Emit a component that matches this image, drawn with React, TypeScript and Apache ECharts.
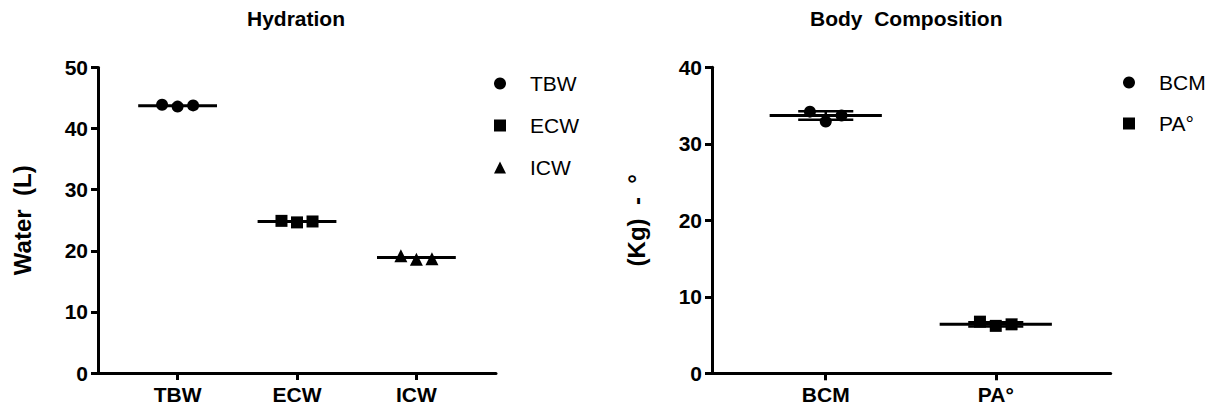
import React, { useEffect, useRef } from "react";
import * as echarts from "echarts";

// ---- data ----
const hydCategories = ["TBW", "ECW", "ICW"];
const tbwValues = [43.9, 43.6, 43.8];
const ecwValues = [24.9, 24.65, 24.8];
const icwValues = [19.2, 18.6, 18.7];
const hydMeans = [43.75, 24.8, 18.9];
const hydJitter = [-0.13, 0, 0.13];

const bodyCategories = ["BCM", "PA°"];
const bcmValues = [34.2, 32.9, 33.7];
const paValues = [6.75, 6.2, 6.4];
const bodyMeans = [33.7, 6.4];
const bodySd = [0.55, 0.28];
const bodyJitter = [-0.093, 0, 0.093];

const hydTicks = [0, 1, 2];
const bodyTicks = [0, 1];

const FONT = "'Liberation Sans', Arial, Helvetica, sans-serif";

function pts(values: number[], cat: number, jitter: number[]) {
  return values.map((v, i) => [cat + jitter[i], v]);
}

function meanRenderer(halfWidth: number, capHalf: number) {
  return (params: any, api: any) => {
    const x = api.value(0);
    const m = api.value(1);
    const sd = api.value(2);
    const a = api.coord([x - halfWidth, m]);
    const b = api.coord([x + halfWidth, m]);
    const children: any[] = [
      {
        type: "line",
        shape: { x1: a[0], y1: a[1], x2: b[0], y2: b[1] },
        style: { stroke: "#000", lineWidth: 3 },
      },
    ];
    if (sd > 0) {
      const t = api.coord([x, m + sd]);
      const bo = api.coord([x, m - sd]);
      const tl = api.coord([x - capHalf, m + sd]);
      const tr = api.coord([x + capHalf, m + sd]);
      const bl = api.coord([x - capHalf, m - sd]);
      const br = api.coord([x + capHalf, m - sd]);
      children.push(
        { type: "line", shape: { x1: t[0], y1: t[1], x2: bo[0], y2: bo[1] }, style: { stroke: "#000", lineWidth: 2.5 } },
        { type: "line", shape: { x1: tl[0], y1: tl[1], x2: tr[0], y2: tr[1] }, style: { stroke: "#000", lineWidth: 2.5 } },
        { type: "line", shape: { x1: bl[0], y1: bl[1], x2: br[0], y2: br[1] }, style: { stroke: "#000", lineWidth: 2.5 } }
      );
    }
    return { type: "group", children };
  };
}

const axisLineStyle = { show: true, lineStyle: { color: "#000", width: 3 } };
const tickStyle = { show: true, length: 7, lineStyle: { color: "#000", width: 3 } };
const labelStyle = { color: "#000", fontSize: 21, fontWeight: "bold" as const, fontFamily: FONT };
const markerStyle = { color: "#000", opacity: 1 };
const legendText = { fontSize: 21, color: "#000", fontFamily: FONT, padding: [0, 0, 0, 19] };

export default function App() {
  const ref = useRef<HTMLDivElement>(null);

  useEffect(() => {
    if (!ref.current) return;
    const chart = echarts.init(ref.current, null, { renderer: "svg" });
    const option: any = {
      animation: false,
      backgroundColor: "#fff",
      title: [
        {
          text: "Hydration",
          left: 247,
          top: 8,
          padding: 0,
          textStyle: { fontSize: 21, fontWeight: "bold", color: "#000", fontFamily: FONT },
        },
        {
          text: "Body  Composition",
          left: 810,
          top: 8,
          padding: 0,
          textStyle: { fontSize: 21, fontWeight: "bold", color: "#000", fontFamily: FONT },
        },
      ],
      legend: [
        {
          data: hydCategories,
          orient: "vertical",
          left: 494,
          top: 73,
          padding: 0,
          itemWidth: 12,
          itemHeight: 12,
          itemGap: 21,
          textStyle: legendText,
        },
        {
          data: bodyCategories,
          orient: "vertical",
          left: 1123,
          top: 72,
          padding: 0,
          itemWidth: 12,
          itemHeight: 12,
          itemGap: 20,
          textStyle: legendText,
        },
      ],
      grid: [
        { left: 98, top: 67.5, width: 398, height: 305.5 },
        { left: 712, top: 67.3, width: 398.7, height: 306 },
      ],
      xAxis: [
        {
          type: "value",
          gridIndex: 0,
          min: -2 / 3,
          max: 8 / 3,
          splitLine: { show: false },
          axisLine: { ...axisLineStyle, onZero: false },
          axisTick: { ...tickStyle, customValues: hydTicks },
          axisLabel: {
            ...labelStyle,
            margin: 11,
            customValues: hydTicks,
            formatter: (v: number) => hydCategories[Math.round(v)] ?? "",
          },
        },
        {
          type: "value",
          gridIndex: 1,
          min: -0.669,
          max: 1.676,
          splitLine: { show: false },
          axisLine: { ...axisLineStyle, onZero: false },
          axisTick: { ...tickStyle, customValues: bodyTicks },
          axisLabel: {
            ...labelStyle,
            margin: 11,
            customValues: bodyTicks,
            formatter: (v: number) => bodyCategories[Math.round(v)] ?? "",
          },
        },
      ],
      yAxis: [
        {
          type: "value",
          gridIndex: 0,
          min: 0,
          max: 50,
          interval: 10,
          name: "Water  (L)",
          nameLocation: "middle",
          nameGap: 64,
          nameTextStyle: { fontSize: 24, fontWeight: "bold", color: "#000", fontFamily: FONT },
          splitLine: { show: false },
          axisLine: { ...axisLineStyle, onZero: false },
          axisTick: tickStyle,
          axisLabel: { ...labelStyle, margin: 10 },
        },
        {
          type: "value",
          gridIndex: 1,
          min: 0,
          max: 40,
          interval: 10,
          name: "(Kg)  -  °",
          nameLocation: "middle",
          nameGap: 64,
          nameTextStyle: { fontSize: 24, fontWeight: "bold", color: "#000", fontFamily: FONT },
          splitLine: { show: false },
          axisLine: { ...axisLineStyle, onZero: false },
          axisTick: tickStyle,
          axisLabel: { ...labelStyle, margin: 10 },
        },
      ],
      series: [
        {
          type: "custom",
          xAxisIndex: 0,
          yAxisIndex: 0,
          renderItem: meanRenderer(0.33, 0.16),
          encode: { x: 0, y: 1 },
          data: hydMeans.map((m, i) => [i, m, 0]),
          silent: true,
        },
        {
          type: "custom",
          xAxisIndex: 1,
          yAxisIndex: 1,
          renderItem: meanRenderer(0.33, 0.162),
          encode: { x: 0, y: 1 },
          data: bodyMeans.map((m, i) => [i, m, bodySd[i]]),
          silent: true,
        },
        {
          name: "TBW",
          type: "scatter",
          xAxisIndex: 0,
          yAxisIndex: 0,
          symbol: "circle",
          symbolSize: 12,
          itemStyle: markerStyle,
          data: pts(tbwValues, 0, hydJitter),
        },
        {
          name: "ECW",
          type: "scatter",
          xAxisIndex: 0,
          yAxisIndex: 0,
          symbol: "rect",
          symbolSize: 12,
          itemStyle: markerStyle,
          data: pts(ecwValues, 1, hydJitter),
        },
        {
          name: "ICW",
          type: "scatter",
          xAxisIndex: 0,
          yAxisIndex: 0,
          symbol: "triangle",
          symbolSize: 13,
          itemStyle: markerStyle,
          data: pts(icwValues, 2, hydJitter),
        },
        {
          name: "BCM",
          type: "scatter",
          xAxisIndex: 1,
          yAxisIndex: 1,
          symbol: "circle",
          symbolSize: 12,
          itemStyle: markerStyle,
          data: pts(bcmValues, 0, bodyJitter),
        },
        {
          name: "PA°",
          type: "scatter",
          xAxisIndex: 1,
          yAxisIndex: 1,
          symbol: "rect",
          symbolSize: 12,
          itemStyle: markerStyle,
          data: pts(paValues, 1, bodyJitter),
        },
      ],
    };
    chart.setOption(option);
    return () => chart.dispose();
  }, []);

  return (
    <div
      ref={ref}
      style={{ position: "fixed", left: 0, top: 0, width: 1213, height: 412, background: "#fff" }}
    />
  );
}
